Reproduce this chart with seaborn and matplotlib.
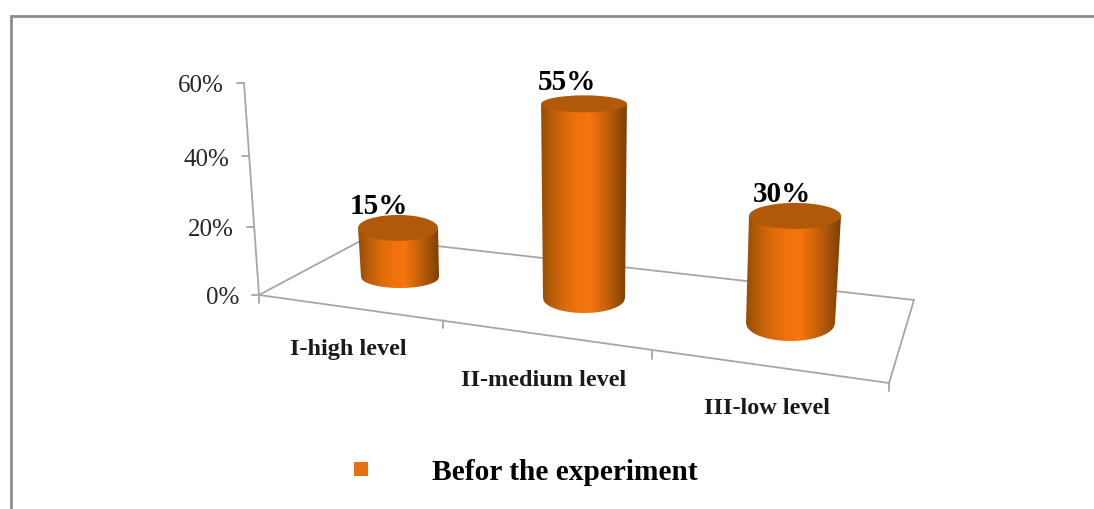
"""3D style cylinder chart: levels before the experiment"""
import numpy as np
import pandas as pd
import seaborn as sns
import matplotlib.pyplot as plt
from matplotlib.lines import Line2D
from matplotlib.patches import Ellipse, Polygon

levels = ['I-high level', 'II-medium level', 'III-low level']
before = [15, 55, 30]
y_ticks = [0, 20, 40, 60]
series_name = 'Befor the experiment'

ORANGE, TOP, LINE, FRAME = '#e8700c', '#b0590b', '#a6a6a6', '#8c8c8c'

sns.set_theme(style='white')
plt.rcParams['font.family'] = ['Liberation Serif', 'DejaVu Serif']

fig = plt.figure(figsize=(10.94, 5.09), dpi=100, facecolor='white')

# seaborn holds the values, the cylinders below take their heights from its bars
ax_bar = fig.add_axes([0, 0, 1, 1])
df = pd.DataFrame({'level': levels, 'value': before})
sns.barplot(data=df, x='level', y='value', ax=ax_bar, color=ORANGE)
heights = [p.get_height() for p in ax_bar.patches]
ax_bar.set_visible(False)

# canvas in image pixels
ax = fig.add_axes([0, 0, 1, 1])

# picture frame, open at the right and bottom
ax.plot([10.5, 10.5, 1094], [509, 16, 16], color=FRAME, lw=2.0, solid_joinstyle='miter')

# wall axis and floor, the wall has a little perspective
wall_x = lambda v: 259 - 15 * v / 60
wall_y = lambda v: 295 - 3.356 * v - 0.00296 * v ** 2
ax.plot([wall_x(0), wall_x(60)], [wall_y(0), wall_y(60)], color=LINE, lw=1.3)
for v in y_ticks:
    ax.plot([wall_x(v) - 7, wall_x(v)], [wall_y(v)] * 2, color=LINE, lw=1.3)
    ax.text(wall_x(v) - 20, wall_y(v) + 3.5, f'{v}%', ha='right', va='center',
            fontsize=18, color='#262626')
ax.add_patch(Polygon([(259, 295), (889, 383), (914, 300), (366, 238)], closed=True,
                     fill=False, edgecolor=LINE, lw=1.3, zorder=1))
for x, y in [(259, 295), (443, 320), (652, 351), (889, 383)]:
    ax.plot([x, x], [y, y + 8], color=LINE, lw=1.3, zorder=1)

# geometry per category, in pixels (floor centre, growth per percent)
base_x = [400, 584, 790.5]
base_y = [277, 298, 323]
base_w = [78, 82, 89]
px_per_pct = [3.27, 3.53, 3.57]
lean_per_pct = [-0.13, 0.0, 0.15]
widen_per_pct = [0.13, 0.07, 0.10]
base_ry = [11, 15, 18]
top_ry = [13, 8.5, 13]
label_dx = [-19, -17, -13]

shade = sns.blend_palette(['#964c06', '#bd5f09', '#dc6a0b', '#ef720e', '#f5750e',
                           '#d2660b', '#a85509', '#7c3f05'], as_cmap=True)
ramp = np.linspace(0, 1, 256).reshape(1, -1)

for i, h in enumerate(heights):
    tx = base_x[i] + h * lean_per_pct[i]
    ty = base_y[i] - h * px_per_pct[i]
    tw = base_w[i] + h * widen_per_pct[i]
    ax.text(tx + label_dx[i], ty - 21, f'{h:.0f}%', ha='center', va='center',
            fontsize=21, fontweight='bold', color='black', zorder=2)
    t = np.linspace(-1, 1, 91)
    low = np.column_stack([base_x[i] + t * base_w[i] / 2,
                           base_y[i] + base_ry[i] * np.sqrt(1 - t ** 2)])
    up = np.column_stack([tx + t * tw / 2, np.full_like(t, ty)])
    body = np.vstack([low, up[::-1]])
    im = ax.imshow(ramp, cmap=shade, aspect='auto', interpolation='bilinear', zorder=3,
                   extent=(body[:, 0].min(), body[:, 0].max(),
                           body[:, 1].max(), body[:, 1].min()))
    im.set_clip_path(Polygon(body, closed=True, transform=ax.transData))
    ax.add_patch(Ellipse((tx, ty), tw, top_ry[i] * 2, facecolor=TOP,
                         edgecolor='none', zorder=4))

ax.set_xlim(0, 1094)
ax.set_ylim(509, 0)
ax.axis('off')

# category labels follow the floor edge
label_x = [348, 544, 767]
label_y = [349, 380, 408]
for name, x, y in zip(levels, label_x, label_y):
    ax.text(x, y, name, ha='center', va='center', fontsize=17.5, fontweight='bold',
            color='#1a1a1a')

handle = Line2D([], [], linestyle='none', marker='s', markersize=9.4, color=ORANGE,
                markeredgewidth=0, label=series_name)
ax.legend(handles=[handle], loc='center left', bbox_to_anchor=(355, 472),
          bbox_transform=ax.transData, frameon=False, handlelength=0.44,
          handletextpad=2.18, borderpad=0, borderaxespad=0,
          prop={'size': 21.2, 'weight': 'bold'}, labelcolor='black')

fig.savefig('out.png', dpi=100, facecolor='white')
